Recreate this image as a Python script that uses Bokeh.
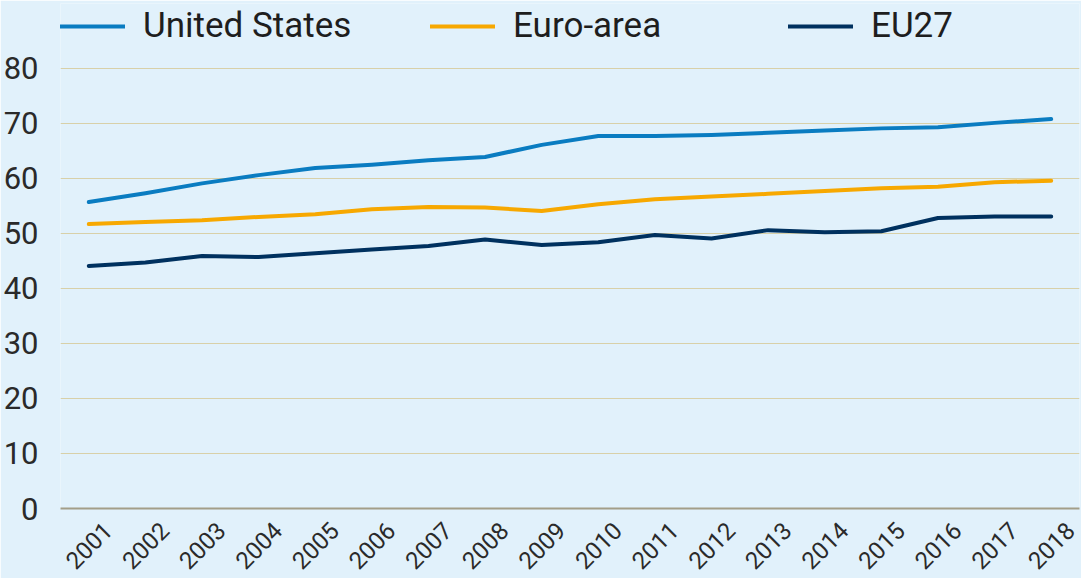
import math
from bokeh.plotting import figure
from bokeh.models import (Range1d, FixedTicker, Legend, LegendItem, LinearAxis)
from bokeh.embed import file_html
from bokeh.resources import INLINE

years = list(range(2001, 2019))
united_states = [55.7, 57.3, 59.1, 60.6, 61.9, 62.5, 63.3, 63.9, 66.1, 67.7,
                 67.7, 67.9, 68.3, 68.7, 69.1, 69.3, 70.1, 70.8]
euro_area = [51.7, 52.1, 52.4, 53.0, 53.5, 54.4, 54.8, 54.7, 54.1, 55.3,
             56.2, 56.7, 57.2, 57.7, 58.2, 58.5, 59.3, 59.6]
eu27 = [44.1, 44.7, 45.9, 45.7, 46.4, 47.1, 47.7, 48.9, 47.9, 48.4,
        49.7, 49.1, 50.6, 50.2, 50.4, 52.8, 53.1, 53.1]
y_ticks = [0, 10, 20, 30, 40, 50, 60, 70, 80]

series_names = ["United States", "Euro-area", "EU27"]
series_values = [united_states, euro_area, eu27]
series_colors = ["#0a7cc1", "#f7a800", "#00315f"]
legend_x = [0, 370, 728]   # legend entry offsets from the plot frame's left edge (px)

BG = "#e1f1fb"
FONT = "Roboto"
TXT = "#2a2a2a"
FRAME_H = 505

x_start, x_end = years[0] - 0.5, years[-1] + 0.5
p = figure(x_range=Range1d(x_start, x_end), y_range=Range1d(0, 91.8),
           frame_width=1019, frame_height=FRAME_H,
           min_border_left=58, min_border_right=4, min_border_top=3, min_border_bottom=68,
           output_backend="svg", toolbar_location=None)
p.background_fill_color = BG
p.border_fill_color = BG
p.outline_line_color = None

renderers = []
for name, vals, col in zip(series_names, series_values, series_colors):
    r = p.line(years, vals, line_color=col, line_width=4, line_join="round", line_cap="round")
    renderers.append((name, r))

p.xgrid.grid_line_color = None
p.ygrid.grid_line_color = "#d8d0a8"
p.ygrid.grid_line_width = 1
p.yaxis.ticker = FixedTicker(ticks=y_ticks)

p.yaxis.axis_line_color = None
p.yaxis.major_tick_line_color = None
p.yaxis.minor_tick_line_color = None
p.yaxis.major_label_text_font = FONT
p.yaxis.major_label_text_font_size = "31px"
p.yaxis.major_label_text_color = TXT
p.yaxis.major_label_standoff = 16

p.xaxis.visible = False

# Year axis on a companion range, offset so that the rotated labels sit
# centred under each year (Bokeh anchors rotated labels at their end).
label_shift = 0.34
p.extra_x_ranges = {"years": Range1d(x_start - label_shift, x_end - label_shift)}
year_axis = LinearAxis(x_range_name="years",
                       ticker=FixedTicker(ticks=years),
                       major_label_overrides={y: str(y) for y in years})
year_axis.axis_line_color = "#a39e88"
year_axis.axis_line_width = 2
year_axis.major_tick_line_color = None
year_axis.minor_tick_line_color = None
year_axis.major_label_orientation = math.pi / 4
year_axis.major_label_text_font = FONT
year_axis.major_label_text_font_size = "24px"
year_axis.major_label_text_color = TXT
year_axis.major_label_standoff = 12
p.add_layout(year_axis, "below")

for (nm, r), lx in zip(renderers, legend_x):
    lg = Legend(items=[LegendItem(label=nm, renderers=[r])],
                orientation="horizontal", location=(lx, FRAME_H - 43),
                glyph_width=65, glyph_height=20, label_standoff=18,
                padding=0, margin=0,
                label_text_font=FONT, label_text_font_size="35px",
                label_text_color="#1e1e1e",
                background_fill_alpha=0, border_line_alpha=0)
    p.add_layout(lg)

open("out.html", "w").write(file_html(p, INLINE))
